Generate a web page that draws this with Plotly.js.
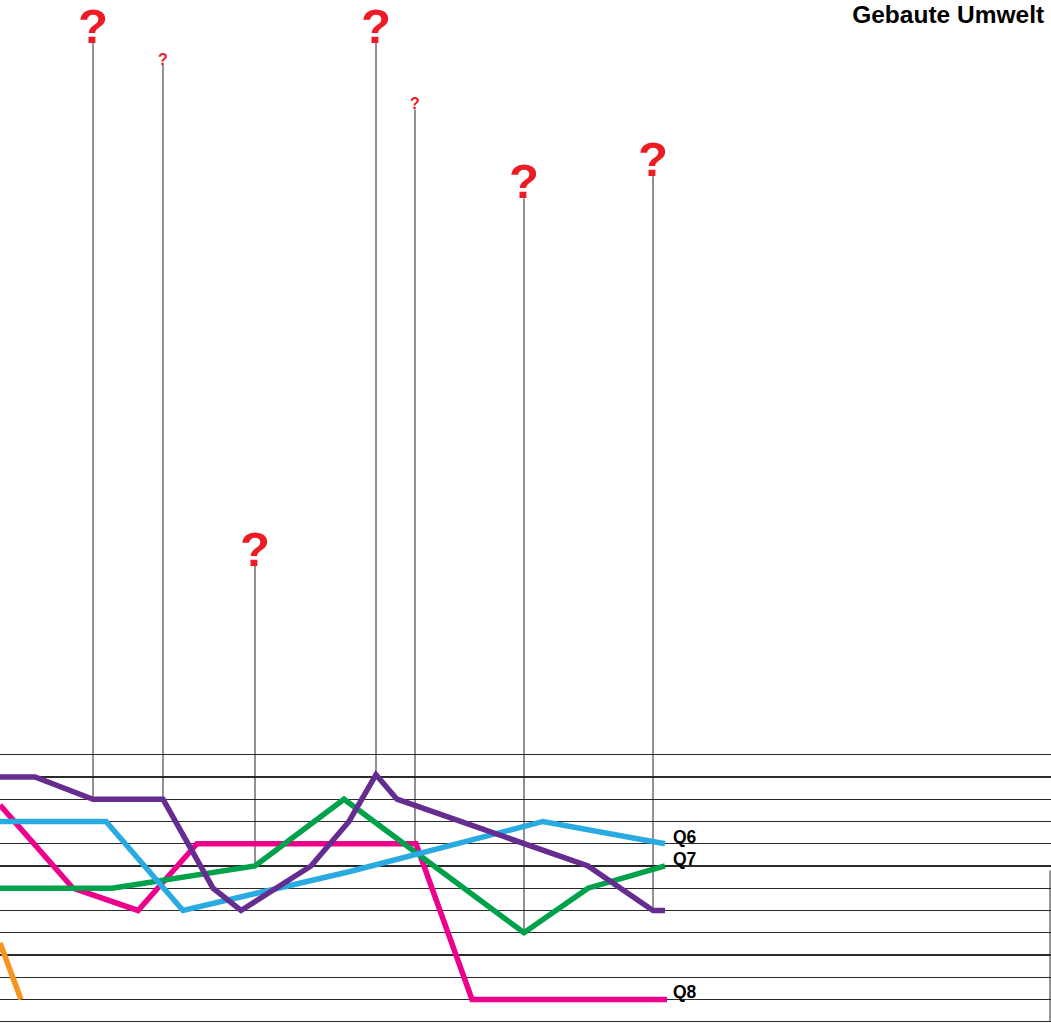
<!DOCTYPE html>
<html>
<head>
<meta charset="utf-8">
<script src="https://cdn.plot.ly/plotly-3.0.1.min.js"></script>
<style>html,body{margin:0;padding:0;background:#fff;}#chart{width:1051px;height:1023px;}</style>
</head>
<body>
<div id="chart"></div>
<script>
// ---- data ----
const gridLevels = [0,1,2,3,4,5,6,7,8,9,10,11,12];

const purpleX = [0,35,93,163,213,241,311,349,376,397,588,653,665];
const purpleY = [11,11,10,10,6,5,7,9,11.1,10,7,5,5];

const q6X = [0,106,183,350,543,665];
const q6Y = [9,9,5,6.75,9,8];

const q7X = [0,112,255,344,524,588,665];
const q7Y = [6,6,7,10,4,6,7];

const q8X = [0,73,138,197,416,472,667];
const q8Y = [9.74,6,5,8,8,1,1];

const orangeX = [0,21];
const orangeY = [3.54,1];

const qX    = [93,163,255,376,415,524,653];
const qBase = [10,10,7,11.1,8,4,5];
const qTop  = [44,43,20.5,44,41,37,38];
const qBig  = [true,false,true,true,false,true,true];

const seriesLabels = ["Q6","Q7","Q8"];
const labelX = 673;
const labelY = [8,7,1];

const titleText = "Gebaute Umwelt";

// ---- build ----
const stemX = [], stemY = [];
qX.forEach((x,i)=>{ stemX.push(x,x,null); stemY.push(qBase[i],qTop[i],null); });

const traces = [
  {x:stemX, y:stemY, mode:'lines', line:{color:'#222', width:1}, hoverinfo:'skip', showlegend:false},
  {x:orangeX, y:orangeY, mode:'lines', line:{color:'#f7941d', width:5.5}, name:'Q9', showlegend:false},
  {x:q8X, y:q8Y, mode:'lines', line:{color:'#ec008c', width:5.5}, name:'Q8', showlegend:false},
  {x:q7X, y:q7Y, mode:'lines', line:{color:'#00a14b', width:5.5}, name:'Q7', showlegend:false},
  {x:q6X, y:q6Y, mode:'lines', line:{color:'#29abe2', width:5.5}, name:'Q6', showlegend:false},
  {x:purpleX, y:purpleY, mode:'lines', line:{color:'#662d91', width:5.5}, name:'Q5', showlegend:false}
];

const FONT = 'Liberation Sans, Arial, Helvetica, sans-serif';
const annotations = [];
qX.forEach((x,i)=>{
  const s = qBig[i] ? 49 : 16;
  annotations.push({x:x, y:qTop[i], xref:'x', yref:'y', text:'<b>?</b>', showarrow:false,
    xanchor:'center', yanchor:'bottom', yshift:-Math.round(0.22*s+1),
    font:{family:FONT, size:s, color:'#ed1c24'}});
});
seriesLabels.forEach((t,i)=>{
  annotations.push({x:labelX, y:labelY[i], xref:'x', yref:'y', text:'<b>'+t+'</b>', showarrow:false,
    xanchor:'left', yanchor:'bottom', xshift:-2, yshift:-Math.round(0.22*17+1),
    font:{family:FONT, size:17.5, color:'#000'}});
});

const layout = {
  width:1051, height:1023,
  margin:{l:0,r:0,t:0,b:0},
  paper_bgcolor:'#fff', plot_bgcolor:'#fff',
  showlegend:false,
  title:{text:'<b>'+titleText+'</b>', font:{family:FONT, size:24.5, color:'#000'},
    xref:'paper', x:0.9935, xanchor:'right', yref:'container', y:0.9855, yanchor:'middle'},
  xaxis:{range:[0,1051], showgrid:false, zeroline:false, showticklabels:false, ticks:'', showline:false, fixedrange:true},
  yaxis:{range:[-0.058,45.92], tickvals:gridLevels, showgrid:true, gridcolor:'#2a2a2a', gridwidth:1.3,
    zeroline:false, showticklabels:false, ticks:'', showline:false, fixedrange:true},
  shapes:[{type:'line', xref:'x', yref:'y', x0:1050, x1:1050, y0:0, y1:6.8, line:{color:'#333', width:1}}],
  annotations:annotations
};

Plotly.newPlot('chart', traces, layout, {displayModeBar:false, staticPlot:true});
</script>
</body>
</html>
